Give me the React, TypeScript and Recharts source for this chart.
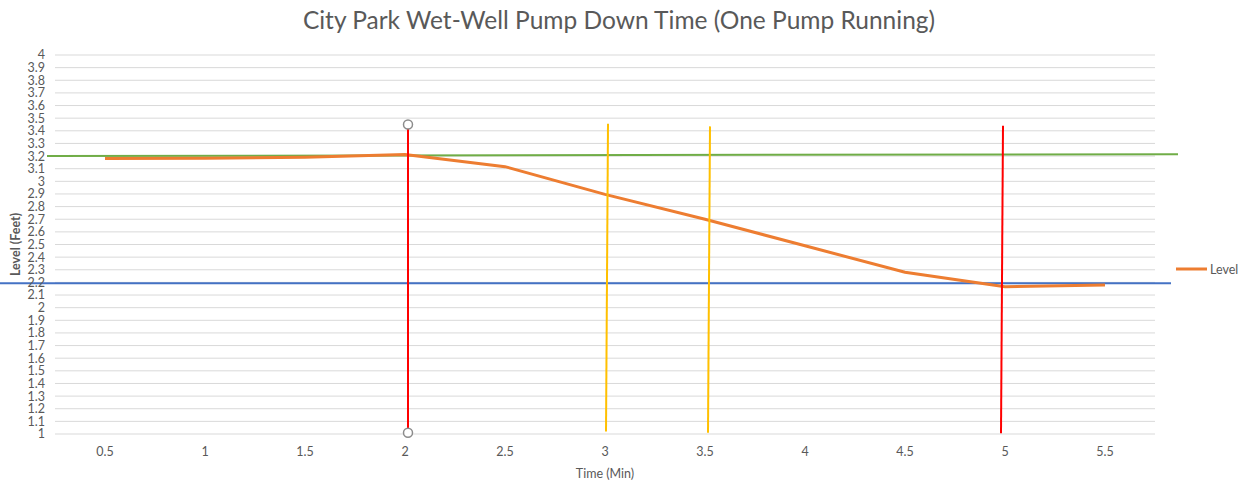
import React from 'react';
import { LineChart, Line, XAxis, YAxis, CartesianGrid, ReferenceLine, ReferenceDot } from 'recharts';

const times = [0.5, 1, 1.5, 2, 2.5, 3, 3.5, 4, 4.5, 5, 5.5];
const levels = [3.18, 3.183, 3.19, 3.212, 3.116, 2.897, 2.7, 2.49, 2.28, 2.166, 2.18];
const xTicks = [0.5, 1, 1.5, 2, 2.5, 3, 3.5, 4, 4.5, 5, 5.5];
const yTicks = [1, 1.1, 1.2, 1.3, 1.4, 1.5, 1.6, 1.7, 1.8, 1.9, 2, 2.1, 2.2, 2.3, 2.4, 2.5, 2.6, 2.7, 2.8, 2.9, 3, 3.1, 3.2, 3.3, 3.4, 3.5, 3.6, 3.7, 3.8, 3.9, 4];

// annotation shapes (time, level)
const highLevelLine = [{ x: 0.21, y: 3.2 }, { x: 5.865, y: 3.215 }];
const lowLevelLine = [{ x: -0.025, y: 2.193 }, { x: 5.83, y: 2.193 }];
const redLines = [
  [{ x: 2.015, y: 3.45 }, { x: 2.015, y: 1.01 }],
  [{ x: 4.99, y: 3.44 }, { x: 4.98, y: 1.005 }],
];
const yellowLines = [
  [{ x: 3.015, y: 3.455 }, { x: 3.005, y: 1.02 }],
  [{ x: 3.525, y: 3.435 }, { x: 3.515, y: 1.01 }],
];
const endDots = [{ x: 2.015, y: 3.45 }, { x: 2.015, y: 1.01 }];

const data = times.map((t, i) => ({ time: t, level: levels[i] }));

const FONT = 'Lato, "Open Sans", sans-serif';
const GREY = '#595959';

const fmt = (v: number) => String(Number(v.toFixed(1)));

export default function App() {
  return (
    <div style={{ position: 'absolute', left: 0, top: 0, width: 1253, height: 481, background: '#fff', fontFamily: FONT }}>
      <div style={{ position: 'absolute', left: 0, top: 5, width: 1238, textAlign: 'center', fontSize: 24.5, color: GREY, fontFamily: FONT, lineHeight: '30px' }}>
        City Park Wet-Well Pump Down Time (One Pump Running)
      </div>
      <LineChart width={1253} height={481} data={data} margin={{ top: 55, right: 98, bottom: 0, left: 8 }}>
        <CartesianGrid vertical={false} stroke="#d9d9d9" strokeWidth={1} />
        <XAxis
          dataKey="time"
          type="number"
          domain={[0.25, 5.75]}
          ticks={xTicks}
          interval={0}
          axisLine={false}
          tickLine={false}
          tickMargin={7}
          height={47}
          tick={{ fill: GREY, fontSize: 12.5, fontFamily: FONT }}
          label={{ value: 'Time (Min)', position: 'insideBottom', offset: 3, fill: GREY, fontSize: 12.5, fontFamily: FONT }}
        />
        <YAxis
          type="number"
          domain={[1, 4]}
          ticks={yTicks}
          interval={0}
          axisLine={false}
          tickLine={false}
          tickMargin={4}
          width={47}
          tickFormatter={fmt}
          tick={{ fill: GREY, fontSize: 12.5, fontFamily: FONT }}
          label={{
            content: (p: any) => {
              const vb = p.viewBox || {};
              const cy = (vb.y || 0) + (vb.height || 0) / 2;
              return (
                <text x={15} y={cy} transform={`rotate(-90 15 ${cy})`} textAnchor="middle" dominantBaseline="central" fill={GREY} fontSize={12.5} fontWeight={700} fontFamily={FONT}>
                  Level (Feet)
                </text>
              );
            },
          }}
        />
        <ReferenceLine segment={highLevelLine} stroke="#70ad47" strokeWidth={2} ifOverflow="visible" />
        <ReferenceLine segment={lowLevelLine} stroke="#4472c4" strokeWidth={2} ifOverflow="visible" />
        <Line type="linear" dataKey="level" stroke="#ed7d31" strokeWidth={3} dot={false} isAnimationActive={false} />
        {yellowLines.map((s, i) => (
          <ReferenceLine key={'y' + i} segment={s} stroke="#ffc000" strokeWidth={2} ifOverflow="visible" />
        ))}
        {redLines.map((s, i) => (
          <ReferenceLine key={'r' + i} segment={s} stroke="#ff0000" strokeWidth={2} ifOverflow="visible" />
        ))}
        {endDots.map((d, i) => (
          <ReferenceDot key={'d' + i} x={d.x} y={d.y} r={4.5} fill="#ffffff" stroke="#8c8c8c" strokeWidth={1.5} ifOverflow="visible" />
        ))}
      </LineChart>
      <div style={{ position: 'absolute', left: 1176, top: 261, height: 16, display: 'flex', alignItems: 'center', fontSize: 12.5, color: GREY, fontFamily: FONT }}>
        <svg width={31} height={4} style={{ display: 'block' }}>
          <line x1={0} y1={2} x2={31} y2={2} stroke="#ed7d31" strokeWidth={3} />
        </svg>
        <span style={{ marginLeft: 3 }}>Level</span>
      </div>
    </div>
  );
}
